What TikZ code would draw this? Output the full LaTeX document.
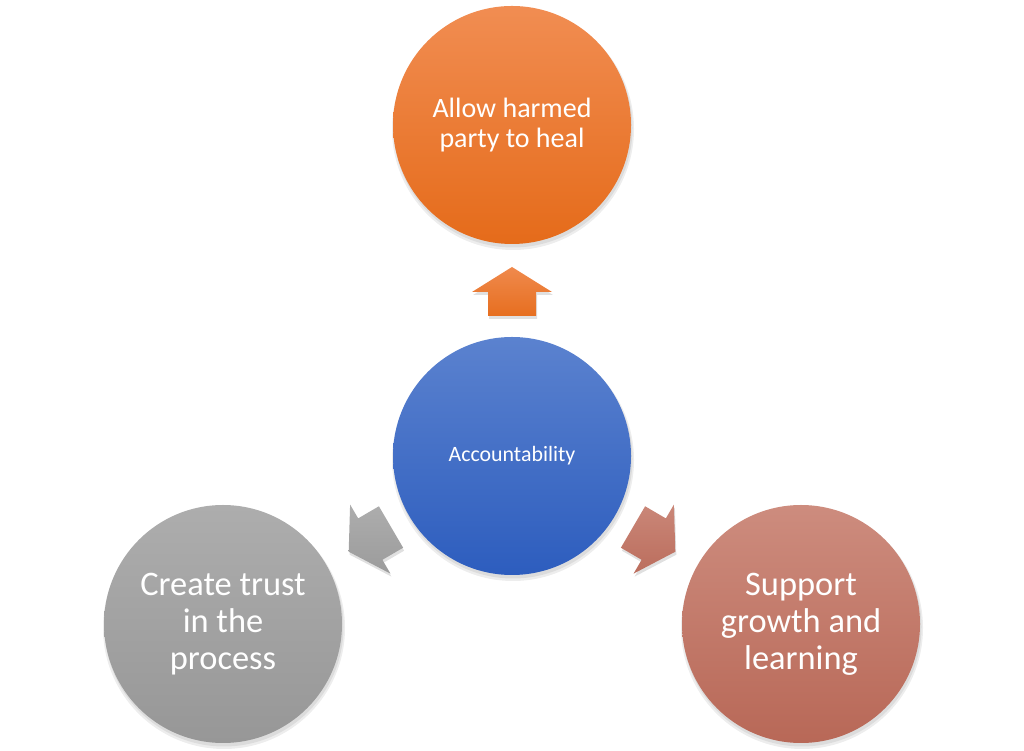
\documentclass[tikz,border=0pt]{standalone}
\usepackage{fontspec}
\usetikzlibrary{calc}
\setmainfont{Carlito}
\definecolor{orTop}{HTML}{F18D52}
\definecolor{orBot}{HTML}{E56B1A}
\definecolor{blTop}{HTML}{5B82CF}
\definecolor{blBot}{HTML}{2D5DBE}
\definecolor{grTop}{HTML}{ADADAD}
\definecolor{grBot}{HTML}{979797}
\definecolor{brTop}{HTML}{CD8C7E}
\definecolor{brBot}{HTML}{B86857}
\newcommand{\blockarrowpath}[2]{%
  ($(#1)+(#2-90:24)$) -- ($(#1)+(#2:24)+(#2-90:24)$) -- ($(#1)+(#2:24)+(#2-90:40)$) --
  ($(#1)+(#2:49)$) -- ($(#1)+(#2:24)+(#2+90:40)$) -- ($(#1)+(#2:24)+(#2+90:24)$) --
  ($(#1)+(#2+90:24)$) -- cycle}
\begin{document}
\begin{tikzpicture}[x=1pt,y=1pt,
  bubble/.style={circle,minimum size=238pt,inner sep=0pt,text=white,align=center},
  shadowc/.style={fill=black,opacity=0.07}
]
\useasboundingbox (0,0) rectangle (1024,751);
% shadows
\foreach \cx/\cy in {512/626,512/295,223/127,801/127}{
  \fill[shadowc] (\cx+1,\cy-4) circle (121pt);
  \fill[shadowc] (\cx+1,\cy-3) circle (119.5pt);
}
\node[bubble,top color=orTop,bottom color=orBot,font=\fontsize{28}{30.5}\selectfont] (heal) at (512,626) {Allow harmed\\party to heal};
\node[bubble,top color=blTop,bottom color=blBot,font=\fontsize{21.9}{24}\selectfont] (acc) at (512,295) {Accountability};
\node[bubble,top color=grTop,bottom color=grBot,font=\fontsize{34.4}{37}\selectfont] (trust) at (223,127) {Create trust\\in the\\process};
\node[bubble,top color=brTop,bottom color=brBot,font=\fontsize{34.4}{37}\selectfont] (grow) at (801,127) {Support\\growth and\\learning};
% block arrows
\coordinate (aUp) at (512,435);
\coordinate (aL) at (391,224);
\coordinate (aR) at (633,224);
\coordinate (sUp) at (513,432);
\coordinate (sL) at (392,221);
\coordinate (sR) at (634,221);
\fill[black,opacity=0.12] \blockarrowpath{sUp}{90};
\fill[black,opacity=0.12] \blockarrowpath{sL}{210.3};
\fill[black,opacity=0.12] \blockarrowpath{sR}{329.7};
\shade[top color=orTop!90!orBot,bottom color=orBot!90!orTop] \blockarrowpath{aUp}{90};
\shade[top color=grTop,bottom color=grBot!80!grTop] \blockarrowpath{aL}{210.3};
\shade[top color=brTop!85!brBot,bottom color=brBot!85!brTop] \blockarrowpath{aR}{329.7};
\end{tikzpicture}
\end{document}
